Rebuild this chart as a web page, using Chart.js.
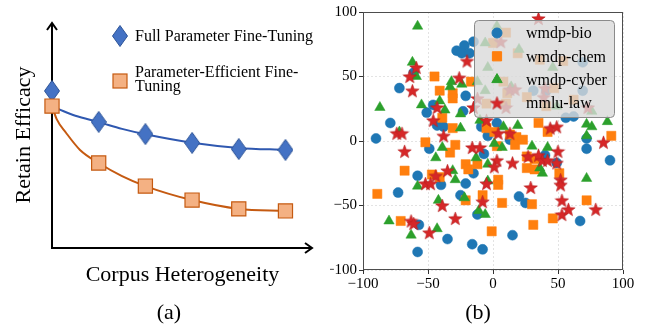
<!DOCTYPE html>
<html>
<head>
<meta charset="utf-8">
<script src="https://cdn.jsdelivr.net/npm/chart.js@4.4.1/dist/chart.umd.min.js"></script>
<style>
  body { margin: 0; background: #fff; }
  #wrap { position: relative; width: 647px; height: 326px; font-family: "Liberation Serif", "Times New Roman", serif; }
  #leftChart { position: absolute; left: 0; top: 0; }
  #rightChart { position: absolute; left: 330px; top: 0; }
  .cap { position: absolute; top: 298px; width: 60px; text-align: center; font-size: 22px; line-height: 28px; color: #000; }
</style>
</head>
<body>
<div id="wrap">
  <canvas id="leftChart" width="330" height="326"></canvas>
  <canvas id="rightChart" width="317" height="326"></canvas>
  <div class="cap" style="left:139px">(a)</div>
  <div class="cap" style="left:448px">(b)</div>
</div>
<script>
// ---- panel (a): schematic curves ----
const steps = [0, 1, 2, 3, 4, 5];
const fullFT = [0.695, 0.558, 0.504, 0.465, 0.438, 0.434];
const peftFT = [0.628, 0.376, 0.274, 0.212, 0.173, 0.164];
const fullCurveX = [0, 0.25, 0.5, 1, 1.5, 2, 3, 4, 5];
const fullCurveY = [0.628, 0.605, 0.585, 0.557, 0.527, 0.503, 0.466, 0.443, 0.434];
const peftCurveX = [0, 0.1, 0.3, 0.6, 1, 1.5, 2, 3, 4, 5];
const peftCurveY = [0.628, 0.57, 0.51, 0.434, 0.376, 0.318, 0.274, 0.212, 0.173, 0.164];
const leftLabels = ['Full Parameter Fine-Tuning', ['Parameter-Efficient Fine-', 'Tuning']];

// ---- panel (b): scatter ----
const seriesNames = ['wmdp-bio', 'wmdp-chem', 'wmdp-cyber', 'mmlu-law'];
const bioPts = [[-90,2],[-79,14],[-72,41],[-73,-40],[-58,-27],[-57,-65],[-58,-86],[-61,53],[-51,22],[-49,-6],[-46,28],[-43,12],[-38,11],[-40,-34],[-35,-76],[-28,70],[-22,74],[-24,68],[-18,68],[-15,77],[-21,35],[-23,23],[-25,-42],[-21,-33],[-16,-80],[-15,-25],[-8,-84],[-7,-10],[-9,11],[-4,4],[3,14],[13,1],[15,-73],[20,-43],[25,-48],[-12,-57],[31,39],[41,39],[40,-11],[49,-17],[56,18],[62,19],[69,61],[69,39],[72,2],[72,-6],[67,-62],[90,-15]];
const chemPts = [[-89,-41],[-68,-23],[-71,-62],[-52,-1],[-45,50],[-41,39],[-39,18],[-31,37],[-31,33],[-31,10],[-29,-3],[-33,-9],[-47,-26],[-41,-28],[-21,-18],[-19,-22],[-21,-46],[-17,46],[-12,-18],[-8,-42],[-5,10],[1,7],[3,-4],[4,-30],[4,-34],[-1,-70],[7,-48],[13,5],[18,3],[17,-3],[23,1],[26,-12],[26,-21],[32,-14],[32,-22],[30,-49],[31,-65],[35,14],[42,7],[51,-25],[46,-60],[72,-46],[91,4],[10,84],[19,68],[8,46],[26,34],[36,63],[54,62],[41,27],[62,32],[-5,29],[10,29],[0,76],[47,41],[11,37]];
const cyberPts = [[-58,89],[-87,26],[-62,61],[-59,50],[-55,28],[-72,7],[-80,-62],[-63,-73],[-58,-35],[-44,-13],[-43,-68],[-42,-46],[-41,31],[-37,24],[-39,-5],[-31,-23],[-29,-30],[-32,46],[-33,42],[-24,44],[-25,21],[-25,10],[-22,-44],[-13,-13],[-11,-54],[-6,-57],[-10,16],[1,-2],[7,-5],[-4,-18],[-4,-31],[8,11],[19,12],[30,-4],[36,-21],[38,-25],[42,-5],[72,13],[76,11],[72,4],[72,-29],[88,15],[3,89],[-6,76],[20,71],[14,42],[-12,46],[-6,39],[46,57],[49,27],[76,23],[-4,57]];
const lawPts = [[35,95],[-59,57],[-64,50],[-62,39],[-74,6],[-70,6],[-68,-8],[-26,49],[-20,62],[-43,26],[-46,16],[-38,4],[-15,26],[-5,16],[4,6],[13,6],[-16,-5],[-10,-5],[15,-17],[3,-15],[1,-20],[-5,-33],[-8,-47],[-35,-23],[-44,-27],[-52,-33],[-48,-33],[-39,-50],[-29,-60],[-63,-62],[-61,-64],[-49,-71],[27,-12],[35,-11],[38,-15],[42,-15],[49,-17],[44,10],[49,11],[50,-8],[52,-30],[52,-34],[53,-46],[53,-57],[58,-53],[79,-53],[85,-1],[29,-36],[6,77],[-12,33],[13,40],[17,40],[40,41],[10,26],[73,26],[39,34]];
const axisTicks = [-100, -50, 0, 50, 100];

const SERIF = '"Liberation Serif", "Times New Roman", serif';

// marker images
function makeDiamond(w, h, fill, stroke) {
  const c = document.createElement('canvas');
  c.width = w; c.height = h;
  const g = c.getContext('2d');
  g.beginPath();
  g.moveTo(w / 2, 0.5); g.lineTo(w - 0.5, h / 2); g.lineTo(w / 2, h - 0.5); g.lineTo(0.5, h / 2);
  g.closePath();
  g.fillStyle = fill; g.fill();
  g.strokeStyle = stroke; g.lineWidth = 1; g.stroke();
  return c;
}
function makeStar(size, fill, stroke) {
  const c = document.createElement('canvas');
  c.width = size; c.height = size;
  const g = c.getContext('2d');
  const cx = size / 2, cy = size / 2 + 0.6, ro = size / 2 - 0.5, ri = ro * 0.42;
  g.beginPath();
  for (let i = 0; i < 10; i++) {
    const r = i % 2 ? ri : ro;
    const a = -Math.PI / 2 + i * Math.PI / 5;
    g.lineTo(cx + r * Math.cos(a), cy + r * Math.sin(a));
  }
  g.closePath();
  g.fillStyle = fill; g.fill();
  g.strokeStyle = stroke; g.lineWidth = 0.6; g.stroke();
  return c;
}
const diamondImg = makeDiamond(16, 22, '#4472c4', '#2f5597');
const starImg = makeStar(15, '#d62728', '#b51f20');

const pts = arr => arr.map(([x, y]) => ({ x, y }));
const xy = (xs, ys) => xs.map((x, i) => ({ x, y: ys[i] }));

// ---------- left chart ----------
const axisArrows = {
  id: 'axisArrows',
  beforeDatasetsDraw(chart) {
    const { ctx, chartArea: a } = chart;
    ctx.save();
    ctx.strokeStyle = '#000';
    ctx.lineWidth = 2;
    ctx.beginPath();
    ctx.moveTo(a.left, a.top + 1);
    ctx.lineTo(a.left, a.bottom);
    ctx.lineTo(a.right - 1, a.bottom);
    ctx.stroke();
    ctx.beginPath();
    ctx.moveTo(a.left - 5, a.top + 8); ctx.lineTo(a.left, a.top + 1); ctx.lineTo(a.left + 5, a.top + 8);
    ctx.moveTo(a.right - 8, a.bottom - 5); ctx.lineTo(a.right - 1, a.bottom); ctx.lineTo(a.right - 8, a.bottom + 5);
    ctx.stroke();
    ctx.restore();
  }
};

const leftLegend = {
  id: 'leftLegend',
  afterDraw(chart) {
    const { ctx } = chart;
    ctx.save();
    ctx.drawImage(diamondImg, 120 - 8, 36 - 11);
    ctx.fillStyle = '#f4b183';
    ctx.strokeStyle = '#c55a11';
    ctx.lineWidth = 1.2;
    ctx.fillRect(113, 74, 14, 14);
    ctx.strokeRect(113, 74, 14, 14);
    ctx.fillStyle = '#000';
    ctx.font = '16px ' + SERIF;
    ctx.textBaseline = 'middle';
    ctx.fillText(leftLabels[0], 135, 37);
    ctx.fillText(leftLabels[1][0], 135, 73);
    ctx.fillText(leftLabels[1][1], 135, 87);
    ctx.restore();
  }
};

new Chart(document.getElementById('leftChart'), {
  type: 'scatter',
  data: {
    datasets: [
      {
        data: xy(steps, peftFT), showLine: false, order: 0, clip: false,
        pointStyle: 'rect', pointRadius: 10, pointHoverRadius: 10,
        backgroundColor: '#f4b183', borderColor: '#c55a11', borderWidth: 1.2
      },
      {
        data: xy(steps, fullFT), showLine: false, order: 1, clip: false,
        pointStyle: diamondImg, pointRadius: 10
      },
      {
        data: xy(peftCurveX, peftCurveY), showLine: true, order: 2, clip: false,
        pointRadius: 0, borderColor: '#c55a11', borderWidth: 2, cubicInterpolationMode: 'monotone'
      },
      {
        data: xy(fullCurveX, fullCurveY), showLine: true, order: 3, clip: false,
        pointRadius: 0, borderColor: '#2f58b0', borderWidth: 2, cubicInterpolationMode: 'monotone'
      }
    ]
  },
  options: {
    responsive: false,
    animation: false,
    layout: { padding: { top: 22, right: 17, left: 0, bottom: 0 } },
    plugins: { legend: { display: false }, tooltip: { enabled: false } },
    scales: {
      x: {
        min: 0, max: 5.59,
        ticks: { display: false }, grid: { display: false }, border: { display: false },
        title: { display: true, text: 'Corpus Heterogeneity', color: '#000', font: { family: SERIF, size: 22 }, padding: { top: 0, bottom: 38 } },
        afterFit: s => { s.height = 78; }
      },
      y: {
        min: 0, max: 1,
        ticks: { display: false }, grid: { display: false }, border: { display: false },
        title: { display: true, text: 'Retain Efficacy', color: '#000', font: { family: SERIF, size: 22 }, padding: { top: 11, bottom: 0 } },
        afterFit: s => { s.width = 52; }
      }
    }
  },
  plugins: [axisArrows, leftLegend]
});

// ---------- right chart ----------
const frameBox = {
  id: 'frameBox',
  afterDatasetsDraw(chart) {
    const { ctx, chartArea: a } = chart;
    ctx.save();
    ctx.strokeStyle = '#4d4d4d';
    ctx.lineWidth = 1;
    ctx.strokeRect(a.left + 0.5, a.top + 0.5, a.right - a.left - 1, a.bottom - a.top - 1);
    ctx.restore();
  }
};

const scatterLegend = {
  id: 'scatterLegend',
  afterDraw(chart) {
    const { ctx, chartArea: a } = chart;
    const w = 140, h = 97;
    const left = a.right - 9 - w, top = a.top + 8;
    ctx.save();
    ctx.beginPath();
    ctx.roundRect(left + 0.5, top + 0.5, w, h, 4);
    ctx.fillStyle = 'rgba(218,218,218,0.8)';
    ctx.fill();
    ctx.strokeStyle = '#8a8a8a';
    ctx.lineWidth = 1;
    ctx.stroke();
    ctx.font = '16px ' + SERIF;
    ctx.textBaseline = 'middle';
    chart.data.datasets.forEach((ds, i) => {
      const y = top + 13 + i * 23.3;
      ctx.fillStyle = ds.backgroundColor;
      ctx.strokeStyle = ds.borderColor;
      ctx.lineWidth = 1;
      Chart.helpers.drawPoint(ctx, { pointStyle: ds.pointStyle, radius: ds.pointRadius, rotation: 0, borderWidth: 1 }, left + 23, y);
      ctx.fillStyle = '#000';
      ctx.fillText(ds.label, left + 52, y + 1);
    });
    ctx.restore();
  }
};

const tickLabel = v => String(v).replace('-', '\u2212');
const axisStyle = {
  min: -100, max: 100,
  grid: { color: 'rgba(0,0,0,0.14)', lineWidth: 0.8, tickColor: '#333', tickLength: 4, tickWidth: 1, tickBorderDash: [] },
  border: { display: false, dash: [2, 2] },
  afterBuildTicks: s => { s.ticks = axisTicks.map(v => ({ value: v })); }
};

new Chart(document.getElementById('rightChart'), {
  type: 'scatter',
  data: {
    datasets: [
      { label: seriesNames[0], data: pts(bioPts), order: 3, clip: false, pointStyle: 'circle', pointRadius: 5, backgroundColor: '#1f77b4', borderColor: '#1f77b4', borderWidth: 0.5 },
      { label: seriesNames[1], data: pts(chemPts), order: 2, clip: false, pointStyle: 'rect', pointRadius: 6.5, backgroundColor: '#ff7f0e', borderColor: '#ff7f0e', borderWidth: 0.5 },
      { label: seriesNames[2], data: pts(cyberPts), order: 1, clip: false, pointStyle: 'triangle', pointRadius: 6, backgroundColor: '#2ca02c', borderColor: '#2ca02c', borderWidth: 0.5 },
      { label: seriesNames[3], data: pts(lawPts), order: 0, clip: false, pointStyle: starImg, pointRadius: 7, backgroundColor: '#d62728', borderColor: '#d62728', borderWidth: 0.5 }
    ]
  },
  options: {
    responsive: false,
    animation: false,
    layout: { padding: { top: 12, right: 24, left: 0, bottom: 0 } },
    plugins: { legend: { display: false }, tooltip: { enabled: false } },
    scales: {
      x: {
        ...axisStyle,
        ticks: { color: '#000', font: { family: SERIF, size: 15 }, padding: 1, maxRotation: 0, callback: tickLabel },
        afterFit: s => { s.height = 56; }
      },
      y: {
        ...axisStyle,
        ticks: { color: '#000', font: { family: SERIF, size: 15 }, padding: 2, callback: tickLabel },
        afterFit: s => { s.width = 33; }
      }
    }
  },
  plugins: [frameBox, scatterLegend]
});
</script>
</body>
</html>
